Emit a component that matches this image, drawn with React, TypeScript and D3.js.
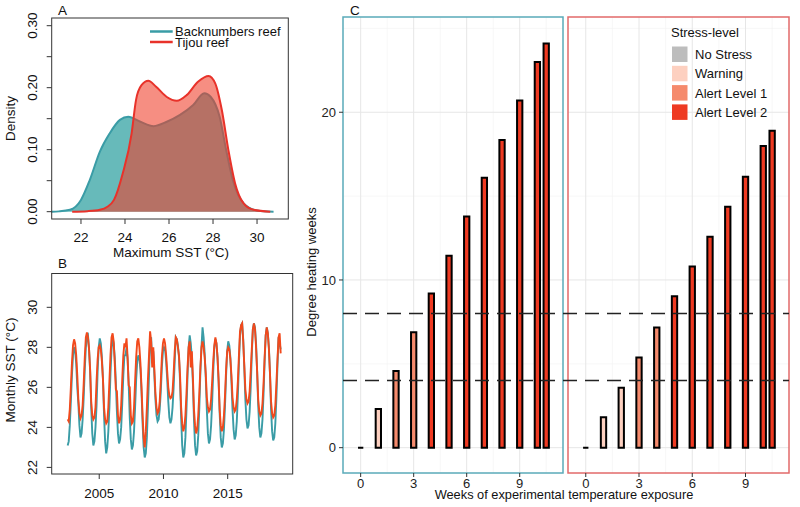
import React from 'react';
import * as d3 from 'd3';

// ---------- Panel A: density of maximum SST ----------
const backDensX = [20.67, 21.0, 21.5, 22.0, 22.4, 22.86, 23.3, 23.77, 24.15, 24.7, 25.3, 25.9, 26.5, 27.1, 27.6, 27.9, 28.3, 28.6, 28.9, 29.4, 30.0, 30.75];
const backDensY = [0, 0.0005, 0.003, 0.019, 0.051, 0.097, 0.126, 0.148, 0.153, 0.145, 0.138, 0.145, 0.156, 0.172, 0.191, 0.185, 0.153, 0.099, 0.051, 0.013, 0.002, 0];
const tijDensX = [21.6, 22.3, 22.86, 23.2, 23.5, 23.9, 24.3, 24.5, 24.75, 25.06, 25.4, 25.9, 26.35, 26.8, 27.33, 27.8, 28.1, 28.4, 28.7, 29.0, 29.4, 29.85, 30.6];
const tijDensY = [0, 0.0008, 0.003, 0.008, 0.019, 0.062, 0.126, 0.18, 0.204, 0.211, 0.202, 0.185, 0.179, 0.188, 0.21, 0.219, 0.207, 0.164, 0.099, 0.046, 0.013, 0.003, 0];
const densityXTicks = [22, 24, 26, 28, 30];
const densityYTicks = [0, 0.05, 0.1, 0.15, 0.2, 0.25, 0.3];
const densityYLabels = [0, 0.1, 0.2, 0.3];
const reefNames = ['Backnumbers reef', 'Tijou reef'];

// ---------- Panel B: monthly SST (Jul 2002 - Feb 2019) ----------
const sstStartYear = 2002;
const sstStartMonth = 6; // July
const backnumbersSST = [
  23.1, 23.3, 24.1, 25.3, 26.6, 27.6,
  28.0, 27.8, 27.2, 26.0, 25.2, 24.1, 23.5, 23.7, 24.4, 25.5, 26.9, 28.0,
  28.5, 28.6, 27.9, 26.8, 25.0, 23.7, 23.1, 23.3, 24.0, 25.1, 26.8, 28.0,
  28.45, 28.2, 27.5, 26.4, 24.6, 23.3, 22.7, 23.0, 23.8, 25.0, 26.7, 27.9,
  28.4, 28.2, 27.5, 26.3, 24.8, 23.7, 23.2, 23.4, 24.0, 25.2, 26.6, 27.6,
  27.6, 28.0, 27.4, 26.2, 24.5, 23.4, 22.9, 23.1, 23.8, 25.0, 26.4, 27.3,
  27.6, 27.4, 26.9, 25.8, 24.2, 23.0, 22.5, 22.7, 23.5, 25.0, 26.6, 28.3,
  28.5, 27.2, 27.8, 26.6, 25.4, 24.6, 24.3, 24.4, 24.9, 25.8, 27.0, 27.8,
  28.0, 27.9, 27.3, 26.4, 25.3, 24.5, 24.2, 24.4, 25.0, 26.0, 27.3, 28.5,
  28.4, 28.1, 27.5, 26.3, 24.5, 23.1, 22.5, 22.7, 23.5, 24.9, 26.6, 28.0,
  28.6, 28.2, 27.5, 26.2, 24.4, 23.1, 22.6, 22.8, 23.6, 25.0, 26.8, 28.0,
  29.0, 28.5, 27.7, 26.5, 24.9, 23.7, 23.2, 23.4, 24.1, 25.3, 26.8, 28.0,
  28.4, 28.2, 27.5, 26.3, 24.7, 23.5, 23.0, 23.2, 23.9, 25.1, 26.6, 27.8,
  28.3, 28.1, 27.5, 26.3, 24.9, 23.9, 23.4, 23.6, 24.3, 25.6, 27.2, 28.6,
  29.1, 29.2, 28.4, 27.0, 25.4, 24.4, 23.95, 24.1, 24.8, 26.0, 27.6, 28.9,
  29.2, 29.0, 28.2, 26.8, 25.1, 24.0, 23.5, 23.7, 24.4, 25.7, 27.3, 28.6,
  29.0, 28.7, 28.0, 26.7, 24.9, 23.8, 23.35, 23.5, 24.2, 25.5, 27.1, 28.5,
  28.2, 27.9,
];
const tijouSST = [
  24.4, 24.3, 24.9, 26.0, 27.2, 28.1,
  28.4, 28.2, 27.6, 26.6, 25.4, 24.7, 24.45, 24.6, 25.1, 26.2, 27.5, 28.5,
  28.75, 28.5, 27.9, 26.9, 25.3, 24.6, 24.4, 24.5, 25.0, 26.3, 27.4, 28.0,
  28.1, 27.9, 27.3, 26.4, 25.0, 24.4, 24.2, 24.3, 25.0, 26.3, 27.6, 28.5,
  28.7, 28.3, 27.2, 25.9, 25.8, 24.6, 24.2, 24.4, 25.1, 26.4, 27.6, 28.2,
  28.0, 28.45, 27.5, 26.1, 26.0, 24.6, 24.2, 24.3, 25.0, 26.3, 27.5, 28.3,
  28.45, 28.0, 27.2, 26.0, 24.6, 23.5, 23.0, 23.8, 25.0, 26.4, 27.6, 28.8,
  28.3, 27.0, 28.0, 26.9, 25.7, 25.0, 24.7, 24.8, 25.3, 26.3, 27.5, 28.2,
  28.45, 28.2, 27.6, 26.8, 26.0, 25.6, 25.45, 25.5, 25.8, 26.7, 27.8, 28.5,
  28.4, 28.0, 27.6, 26.6, 25.0, 24.2, 23.8, 24.0, 24.6, 25.7, 27.0, 28.0,
  28.3, 27.0, 27.8, 26.5, 24.9, 24.1, 23.7, 23.9, 24.6, 25.7, 27.0, 28.0,
  28.3, 28.0, 27.5, 26.7, 25.5, 25.0, 24.8, 24.9, 25.4, 26.3, 27.3, 28.1,
  28.5, 28.2, 27.5, 26.4, 24.9, 24.1, 23.8, 24.0, 24.6, 25.6, 26.9, 27.8,
  28.0, 27.9, 27.4, 26.6, 25.5, 25.0, 24.8, 24.9, 25.4, 26.3, 27.6, 28.8,
  29.1, 29.2, 28.3, 27.1, 25.9, 25.4, 25.2, 25.3, 25.8, 26.8, 27.9, 28.9,
  29.2, 28.9, 28.0, 26.8, 25.4, 24.8, 24.6, 24.7, 25.2, 26.2, 27.5, 28.6,
  29.0, 28.7, 27.9, 26.7, 25.3, 24.7, 24.5, 24.6, 25.1, 26.2, 27.4, 28.5,
  28.7, 27.7,
];
const sstXTicks = [2005, 2010, 2015];
const sstYTicks = [22, 24, 26, 28, 30];

// ---------- Panel C: degree heating weeks ----------
const weeks = [0, 1, 2, 3, 4, 5, 6, 7, 8, 9, 10, 10.5];
const dhwBacknumbers = [0, 2.3, 4.57, 6.88, 9.2, 11.45, 13.78, 16.1, 18.35, 20.7, 23.0, 24.1];
const stressBacknumbers = ['No Stress', 'Warning', 'Alert Level 1', 'Alert Level 1', 'Alert Level 2', 'Alert Level 2', 'Alert Level 2', 'Alert Level 2', 'Alert Level 2', 'Alert Level 2', 'Alert Level 2', 'Alert Level 2'];
const dhwTijou = [0, 1.81, 3.58, 5.37, 7.16, 9.03, 10.8, 12.58, 14.37, 16.16, 17.99, 18.89];
const stressTijou = ['No Stress', 'Warning', 'Warning', 'Alert Level 1', 'Alert Level 1', 'Alert Level 2', 'Alert Level 2', 'Alert Level 2', 'Alert Level 2', 'Alert Level 2', 'Alert Level 2', 'Alert Level 2'];
const stressLevels = ['No Stress', 'Warning', 'Alert Level 1', 'Alert Level 2'];
const stressColors = ['#bdbdbd', '#fdd0c0', '#f58a6c', '#ee3a22'];
const dhwThresholds = [4, 8];
const weekTicks = [0, 3, 6, 9];
const weekMinor = [1.5, 4.5, 7.5, 10.5];
const dhwTicks = [0, 10, 20];
const dhwMinor = [5, 15, 25];

const FONT = '"Liberation Sans", Arial, sans-serif';
const TEAL = '#3a9ca6';
const RED_A = '#e8322a';
const RED_B = '#f2491c';

export default function App() {
  // Panel A scales
  const ax = d3.scaleLinear().domain([20.67, 31.42]).range([51.7, 288.3]);
  const ay = d3.scaleLinear().domain([-0.0118, 0.3124]).range([219, 18]);
  const area = (xs: number[], ys: number[]) =>
    d3.area<number>().x((_, i) => ax(xs[i])).y0(ay(0)).y1((d) => ay(d)).curve(d3.curveMonotoneX)(ys) || '';
  const lineA = (xs: number[], ys: number[]) =>
    d3.line<number>().x((_, i) => ax(xs[i])).y((d) => ay(d)).curve(d3.curveMonotoneX)(ys) || '';

  // Panel B scales
  const bx = d3.scaleLinear().domain([2001.3, 2020.06]).range([51.7, 292.7]);
  const by = d3.scaleLinear().domain([21.67, 31.73]).range([474, 272.7]);
  const tOf = (i: number) => sstStartYear + (sstStartMonth + i + 0.5) / 12;
  const lineB = d3.line<number>().x((_, i) => bx(tOf(i))).y((d) => by(d));

  // Panel C scales
  const cxL = d3.scaleLinear().domain([-1.0, 11.45]).range([343, 563]);
  const cxR = d3.scaleLinear().domain([-1.0, 11.45]).range([568, 789]);
  const cy = d3.scaleLinear().domain([-1.51, 25.68]).range([473, 17]);
  const color = d3.scaleOrdinal<string, string>().domain(stressLevels).range(stressColors);
  const barW = 0.3;

  const facet = (sx: d3.ScaleLinear<number, number>, vals: number[], stress: string[], border: string, key: string) => {
    const [x0, x1] = sx.range();
    const [yb, yt] = cy.range();
    return (
      <g key={key}>
        {dhwMinor.map((v) => (
          <line key={'ym' + v} x1={x0} x2={x1} y1={cy(v)} y2={cy(v)} stroke="#f2f2f2" strokeWidth={0.6} />
        ))}
        {weekMinor.map((v) => (
          <line key={'xm' + v} x1={sx(v)} x2={sx(v)} y1={yt} y2={yb} stroke="#f2f2f2" strokeWidth={0.6} />
        ))}
        {dhwTicks.map((v) => (
          <line key={'yM' + v} x1={x0} x2={x1} y1={cy(v)} y2={cy(v)} stroke="#e6e6e6" strokeWidth={1} />
        ))}
        {weekTicks.map((v) => (
          <line key={'xM' + v} x1={sx(v)} x2={sx(v)} y1={yt} y2={yb} stroke="#e6e6e6" strokeWidth={1} />
        ))}
        {vals.map((v, i) => {
          const xl = sx(weeks[i] - barW / 2);
          const w = sx(barW) - sx(0);
          const yTop = cy(v);
          const y0 = cy(0);
          return (
            <path
              key={'b' + i}
              d={`M${xl},${y0}V${yTop}H${xl + w}V${y0}Z`}
              fill={color(stress[i])}
              stroke="#000"
              strokeWidth={2}
              strokeLinecap="square"
            />
          );
        })}
        <rect x={x0} y={yt} width={x1 - x0} height={yb - yt} fill="none" stroke={border} strokeWidth={1.5} />
        {weekTicks.map((v) => (
          <g key={'xt' + v}>
            <line x1={sx(v)} x2={sx(v)} y1={yb} y2={yb + 4} stroke="#333" strokeWidth={1} />
            <text x={sx(v)} y={487.5} textAnchor="middle" fontSize={13} fill="#222">{v}</text>
          </g>
        ))}
      </g>
    );
  };

  return (
    <svg width={800} height={507} style={{ position: 'absolute', left: 0, top: 0, background: '#fff' }} fontFamily={FONT}>
      <rect width={800} height={507} fill="#fff" />

      {/* ---------------- Panel A ---------------- */}
      <path d={area(backDensX, backDensY)} fill="#1f9a9a" fillOpacity={0.68} />
      <path d={lineA(backDensX, backDensY)} fill="none" stroke={TEAL} strokeWidth={2} />
      <path d={area(tijDensX, tijDensY)} fill="#f03c28" fillOpacity={0.58} />
      <path d={lineA(tijDensX, tijDensY)} fill="none" stroke={RED_A} strokeWidth={2} />
      <rect x={51.7} y={18} width={288.3 - 51.7} height={219 - 18} fill="none" stroke="#333" strokeWidth={1} />
      {densityXTicks.map((v) => (
        <g key={'ax' + v}>
          <line x1={ax(v)} x2={ax(v)} y1={219} y2={224} stroke="#333" />
          <text x={ax(v)} y={241.5} textAnchor="middle" fontSize={13.5} fill="#111">{v}</text>
        </g>
      ))}
      {densityYTicks.map((v) => (
        <line key={'ay' + v} x1={46.7} x2={51.7} y1={ay(v)} y2={ay(v)} stroke="#333" />
      ))}
      {densityYLabels.map((v) => (
        <text key={'ayl' + v} transform={`translate(36.5,${ay(v)}) rotate(-90)`} textAnchor="middle" fontSize={13.5} fill="#111">
          {v.toFixed(2)}
        </text>
      ))}
      <text x={171} y={257} textAnchor="middle" fontSize={13.5} fill="#111">Maximum SST (°C)</text>
      <text transform={`translate(14.5,${(18 + 219) / 2}) rotate(-90)`} textAnchor="middle" fontSize={13.5} fill="#111">Density</text>
      <text x={58} y={15} fontSize={13.5} fill="#111">A</text>
      {reefNames.map((n, i) => (
        <g key={n}>
          <line x1={150} x2={172.7} y1={31.5 + i * 10.5} y2={31.5 + i * 10.5} stroke={i === 0 ? TEAL : RED_A} strokeWidth={2.5} />
          <text x={175} y={36 + i * 10.5} fontSize={13} fill="#111">{n}</text>
        </g>
      ))}

      {/* ---------------- Panel B ---------------- */}
      <path d={lineB(backnumbersSST) || ''} fill="none" stroke={TEAL} strokeWidth={1.9} />
      <path d={lineB(tijouSST) || ''} fill="none" stroke={RED_B} strokeWidth={1.9} />
      <rect x={51.7} y={273.5} width={292.7 - 51.7} height={474 - 273.5} fill="none" stroke="#333" strokeWidth={1} />
      {sstXTicks.map((v) => (
        <g key={'bx' + v}>
          <line x1={bx(v)} x2={bx(v)} y1={474} y2={479} stroke="#333" />
          <text x={bx(v)} y={498} textAnchor="middle" fontSize={13.5} fill="#111">{v}</text>
        </g>
      ))}
      {sstYTicks.map((v) => (
        <g key={'by' + v}>
          <line x1={46.7} x2={51.7} y1={by(v)} y2={by(v)} stroke="#333" />
          <text transform={`translate(36.5,${by(v)}) rotate(-90)`} textAnchor="middle" fontSize={13.5} fill="#111">{v}</text>
        </g>
      ))}
      <text transform={`translate(14.5,${370}) rotate(-90)`} textAnchor="middle" fontSize={13.5} fill="#111">Monthly SST (°C)</text>
      <text x={58} y={268} fontSize={13.5} fill="#111">B</text>

      {/* ---------------- Panel C ---------------- */}
      {facet(cxL, dhwBacknumbers, stressBacknumbers, '#5aaab9', 'L')}
      {facet(cxR, dhwTijou, stressTijou, '#e26a6a', 'R')}
      {dhwThresholds.map((v) => (
        <line key={'th' + v} x1={343} x2={789} y1={cy(v)} y2={cy(v)} stroke="#222" strokeWidth={1.5} strokeDasharray="14 8" />
      ))}
      {dhwTicks.map((v) => (
        <g key={'cy' + v}>
          <line x1={339} x2={343} y1={cy(v)} y2={cy(v)} stroke="#333" />
          <text x={336} y={cy(v) + 4.7} textAnchor="end" fontSize={13} fill="#222">{v}</text>
        </g>
      ))}
      <text transform={`translate(316,272) rotate(-90)`} textAnchor="middle" fontSize={13} fill="#111">Degree heating weeks</text>
      <text x={564} y={498.5} textAnchor="middle" fontSize={12.8} fill="#111">Weeks of experimental temperature exposure</text>
      <text x={350} y={15} fontSize={13.5} fill="#111">C</text>

      {/* legend */}
      <text x={671} y={37} fontSize={13} fill="#111">Stress-level</text>
      {stressLevels.map((s, i) => (
        <g key={s}>
          <rect x={672} y={46.5 + i * 19.3} width={15.5} height={15.5} fill={color(s)} />
          <text x={695} y={59 + i * 19.3} fontSize={13} fill="#111">{s}</text>
        </g>
      ))}
    </svg>
  );
}
